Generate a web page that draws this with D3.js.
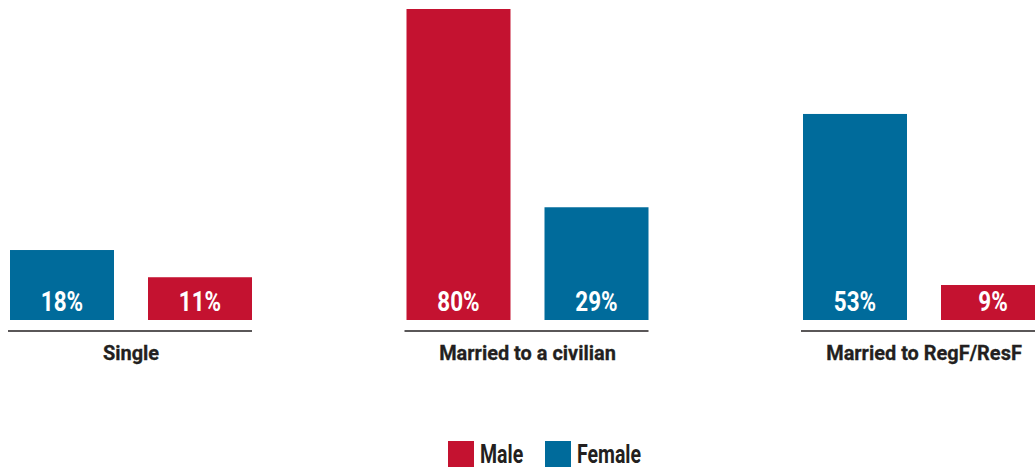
<!DOCTYPE html>
<html>
<head>
<meta charset="utf-8">
<script src="https://cdn.jsdelivr.net/npm/d3@7"></script>
<style>
  body { margin: 0; background: #fff; overflow: hidden; }
  text { font-family: Roboto, "DejaVu Sans Condensed", sans-serif; font-weight: bold; }
</style>
</head>
<body>
<svg width="1035" height="470"></svg>
<script>
// categories and values (left bar is listed first in each group)
var groups = ["Single", "Married to a civilian", "Married to RegF/ResF"];
var leftSeries = ["Female", "Male", "Female"];
var leftValues = [18, 80, 53];
var rightSeries = ["Male", "Female", "Male"];
var rightValues = [11, 29, 9];
var legendItems = ["Male", "Female"];

var svg = d3.select("svg");
var ink = "#231f20";

function color(s) {
  return s == "Male" ? "#c41230" : "#006b9b";
}

// condensed look: squeeze the text horizontally
function squeeze(sx) {
  return function(x, yy) { return "translate(" + x + "," + yy + ") scale(" + sx + ",1)"; };
}

var x0 = d3.scaleLinear().domain([0, 2]).range([10, 803]);
var x1 = d3.scaleBand().domain([0, 1]).range([0, 242]).paddingInner(0.2464);
var y = d3.scaleLinear().domain([0, 80]).range([320, 9]);

var bars = [];
groups.forEach(function(g, i) {
  bars.push({g: i, pos: 0, series: leftSeries[i], value: leftValues[i]});
  bars.push({g: i, pos: 1, series: rightSeries[i], value: rightValues[i]});
});

var grp = svg.selectAll("g.grp")
  .data(groups)
  .enter().append("g")
    .attr("class", "grp")
    .attr("transform", function(d, i) { return "translate(" + x0(i) + ",0)"; });

grp.append("line")
    .attr("x1", -2).attr("x2", 242)
    .attr("y1", 331).attr("y2", 331)
    .attr("stroke", ink)
    .attr("stroke-width", 1.5);

var labT = squeeze(0.95);
grp.append("text")
    .attr("transform", labT(121, 360))
    .attr("text-anchor", "middle")
    .attr("font-size", 21)
    .attr("fill", ink)
    .attr("stroke", ink)
    .attr("stroke-width", 0.3)
    .text(function(d) { return d; });

svg.selectAll("rect.bar")
  .data(bars)
  .enter().append("rect")
    .attr("class", "bar")
    .attr("x", function(d) { return x0(d.g) + x1(d.pos); })
    .attr("y", function(d) { return y(d.value); })
    .attr("width", x1.bandwidth())
    .attr("height", function(d) { return y(0) - y(d.value); })
    .attr("fill", function(d) { return color(d.series); });

var valT = squeeze(0.83);
svg.selectAll("text.val")
  .data(bars)
  .enter().append("text")
    .attr("class", "val")
    .attr("transform", function(d) { return valT(x0(d.g) + x1(d.pos) + x1.bandwidth() / 2, 311); })
    .attr("text-anchor", "middle")
    .attr("font-size", 27)
    .attr("fill", "#fff")
    .text(function(d) { return d.value + "%"; });

// legend
var legX = [448, 545];
var leg = svg.selectAll("g.leg")
  .data(legendItems)
  .enter().append("g")
    .attr("class", "leg")
    .attr("transform", function(d, i) { return "translate(" + legX[i] + ",441)"; });

leg.append("rect")
    .attr("width", 26).attr("height", 26)
    .attr("fill", function(d) { return color(d); });

leg.append("text")
    .attr("transform", squeeze(0.75)(32, 22))
    .attr("font-size", 26)
    .attr("fill", ink)
    .text(function(d) { return d; });
</script>
</body>
</html>
